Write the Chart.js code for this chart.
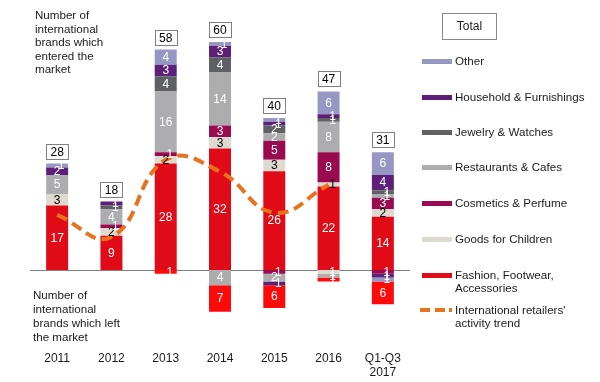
<!DOCTYPE html>
<html><head><meta charset="utf-8">
<script src="https://cdn.jsdelivr.net/npm/chart.js@4"></script>
<style>
html,body{margin:0;padding:0;background:#fff;}
#wrap{position:relative;width:600px;height:382px;font-family:"Liberation Sans",Arial,sans-serif;color:#1a1a1a;overflow:hidden;}
canvas{position:absolute;left:0;top:0;}
.t{position:absolute;font-size:11.6px;line-height:13.6px;white-space:nowrap;}
.sw{position:absolute;left:422px;width:30px;height:5px;}
.d{position:absolute;height:4px;background:#E8731E;}
#total{position:absolute;left:442px;top:13px;width:53px;height:25px;border:1px solid #888;font-size:12px;line-height:25px;text-align:center;}
</style></head><body>
<div id="wrap">
<canvas id="c" width="600" height="382"></canvas>
<div class="t" style="left:35px;top:8px;">Number of<br>international<br>brands which<br>entered the<br>market</div>
<div class="t" style="left:33px;top:288px;line-height:14px;">Number of<br>international<br>brands which left<br>the market</div>
<div id="total">Total</div>
<div id="legend"></div>
</div>
<script>
// ---- data ----
const years = ['2011','2012','2013','2014','2015','2016',['Q1-Q3','2017']];
const totals = [28,18,58,60,40,47,31];
// brands which entered the market (positive)
const inFashion     = [17, 9,28,32,26,22,14];
const inGoods       = [ 3, 2, 2, 3, 3, 1, 2];
const inCosmetics   = [ 0, 1, 1, 3, 5, 8, 3];
const inRestaurants = [ 5, 4,16,14, 2, 8, 1];
const inJewelry     = [ 0, 1, 4, 4, 2, 1, 1];
const inHousehold   = [ 2, 1, 3, 3, 1, 1, 4];
const inOther       = [ 1, 0, 4, 1, 1, 6, 6];
// brands which left the market (negative)
const outCosmetics   = [0,0, 0, 0,-1, 0,-1];
const outGoods       = [0,0, 0, 0, 0,-1, 0];
const outRestaurants = [0,0, 0,-4,-2,-1, 0];
const outHousehold   = [0,0, 0, 0,-1, 0,-1];
const outOther       = [0,0, 0, 0, 0, 0,-1];
const outFashion     = [0,0,-1,-7,-6,-1,-6];
// activity trend
const trend = [14.5, 8.7, 29.0, 25.9, 15.1, 22.4, null];

const legendNames = ['Other','Household & Furnishings','Jewelry & Watches','Restaurants & Cafes','Cosmetics & Perfume','Goods for Children','Fashion, Footwear,\nAccessories'];

const C = {
  fashion:'#E10A17', fashionOut:'#FF0A0A', goods:'#DEDAD0', cosmetics:'#990A50',
  restaurants:'#ADADB0', jewelry:'#5F6064', household:'#5D2078', other:'#9797C3', trend:'#E8731E'
};

function bar(data, color, labelColor){
  return {type:'bar', data, backgroundColor:color, borderWidth:0, stack:'s', order:1, labelColor,
          barPercentage:0.405, categoryPercentage:1};
}

const datasets = [
  bar(inFashion, C.fashion, '#fff'),
  bar(inGoods, C.goods, '#000'),
  bar(inCosmetics, C.cosmetics, '#fff'),
  bar(inRestaurants, C.restaurants, '#fff'),
  bar(inJewelry, C.jewelry, '#fff'),
  bar(inHousehold, C.household, '#fff'),
  bar(inOther, C.other, '#fff'),
  bar(outCosmetics, C.cosmetics, '#fff'),
  bar(outGoods, C.goods, '#fff'),
  bar(outRestaurants, C.restaurants, '#fff'),
  bar(outHousehold, C.household, '#fff'),
  bar(outOther, C.other, '#fff'),
  bar(outFashion, C.fashionOut, '#fff'),
  {type:'line', data:trend, borderColor:C.trend, borderWidth:4, borderDash:[11,6], tension:0.45,
   pointRadius:0, fill:false, stack:'trend', order:0}
];

const overlay = {
  id:'overlay',
  beforeDatasetsDraw(chart){
    const ctx=chart.ctx, y=chart.scales.y, a=chart.chartArea;
    const y0=Math.round(y.getPixelForValue(0))+0.5;
    ctx.save();
    ctx.strokeStyle='#808080'; ctx.lineWidth=1;
    ctx.beginPath(); ctx.moveTo(a.left,y0); ctx.lineTo(a.right,y0); ctx.stroke();
    ctx.restore();
  },
  afterDatasetsDraw(chart){
    const ctx=chart.ctx, x=chart.scales.x, y=chart.scales.y;
    ctx.save();
    ctx.font='12px "Liberation Sans", Arial, sans-serif';
    ctx.textAlign='center'; ctx.textBaseline='middle';
    chart.data.datasets.forEach((ds,di)=>{
      if(ds.type==='line') return;
      const meta=chart.getDatasetMeta(di);
      meta.data.forEach((el,i)=>{
        const v=ds.data[i]; if(!v) return;
        const p=el.getProps(['x','y','base'],true);
        const dx = Math.abs(v)===1 ? 4 : 0;
        ctx.fillStyle=ds.labelColor;
        ctx.fillText(String(Math.abs(v)), p.x+dx, (p.y+p.base)/2+0.5);
      });
    });
    // total boxes
    totals.forEach((t,i)=>{
      const cx=x.getPixelForValue(i), top=y.getPixelForValue(t);
      const bw=22,bh=15;
      const bx=Math.round(cx-bw/2)+0.5, by=Math.round(top-5-bh)+0.5;
      ctx.fillStyle='#fff'; ctx.fillRect(bx,by,bw,bh);
      ctx.strokeStyle='#7f7f7f'; ctx.lineWidth=1; ctx.strokeRect(bx,by,bw,bh);
      ctx.fillStyle='#000'; ctx.fillText(String(t), cx, by+bh/2+0.5);
    });
    ctx.restore();
  }
};

new Chart(document.getElementById('c'), {
  data:{labels:years, datasets},
  options:{
    responsive:false, animation:false, events:[],
    layout:{padding:{left:30,right:190,top:26.8,bottom:2.6}},
    plugins:{legend:{display:false}, tooltip:{enabled:false}},
    scales:{
      x:{stacked:true, offset:true, grid:{display:false, drawTicks:false}, border:{display:false},
         afterFit(scale){ scale.height = 48.6; },
         ticks:{padding:21, color:'#1a1a1a', font:{family:'"Liberation Sans", Arial, sans-serif', size:12, lineHeight:1.15}, maxRotation:0, autoSkip:false}},
      y:{stacked:true, display:false, min:-16, max:64}
    }
  },
  plugins:[overlay]
});

// legend (HTML)
const legendColors=[C.other,C.household,C.jewelry,C.restaurants,C.cosmetics,C.goods,C.fashion];
const rowsY=[61,97,132,167,203,239,275];
const lg=document.getElementById('legend');
legendNames.forEach((n,i)=>{
  const sw=document.createElement('div'); sw.className='sw';
  sw.style.top=(rowsY[i]-2.5)+'px'; sw.style.background=legendColors[i]; lg.appendChild(sw);
  const t=document.createElement('div'); t.className='t';
  t.style.left='455px'; t.style.top=(rowsY[i]-7)+'px'; t.style.lineHeight='13.4px';
  t.innerHTML=n.replace('\n','<br>'); lg.appendChild(t);
});
[[420,10],[435,10],[449,3]].forEach(([l,w])=>{
  const d=document.createElement('div'); d.className='d';
  d.style.left=l+'px'; d.style.width=w+'px'; d.style.top='308px'; lg.appendChild(d);
});
const tt=document.createElement('div'); tt.className='t';
tt.style.left='455px'; tt.style.top='303px'; tt.style.lineHeight='13.4px';
tt.innerHTML="International retailers'<br>activity trend"; lg.appendChild(tt);
</script>
</body></html>
